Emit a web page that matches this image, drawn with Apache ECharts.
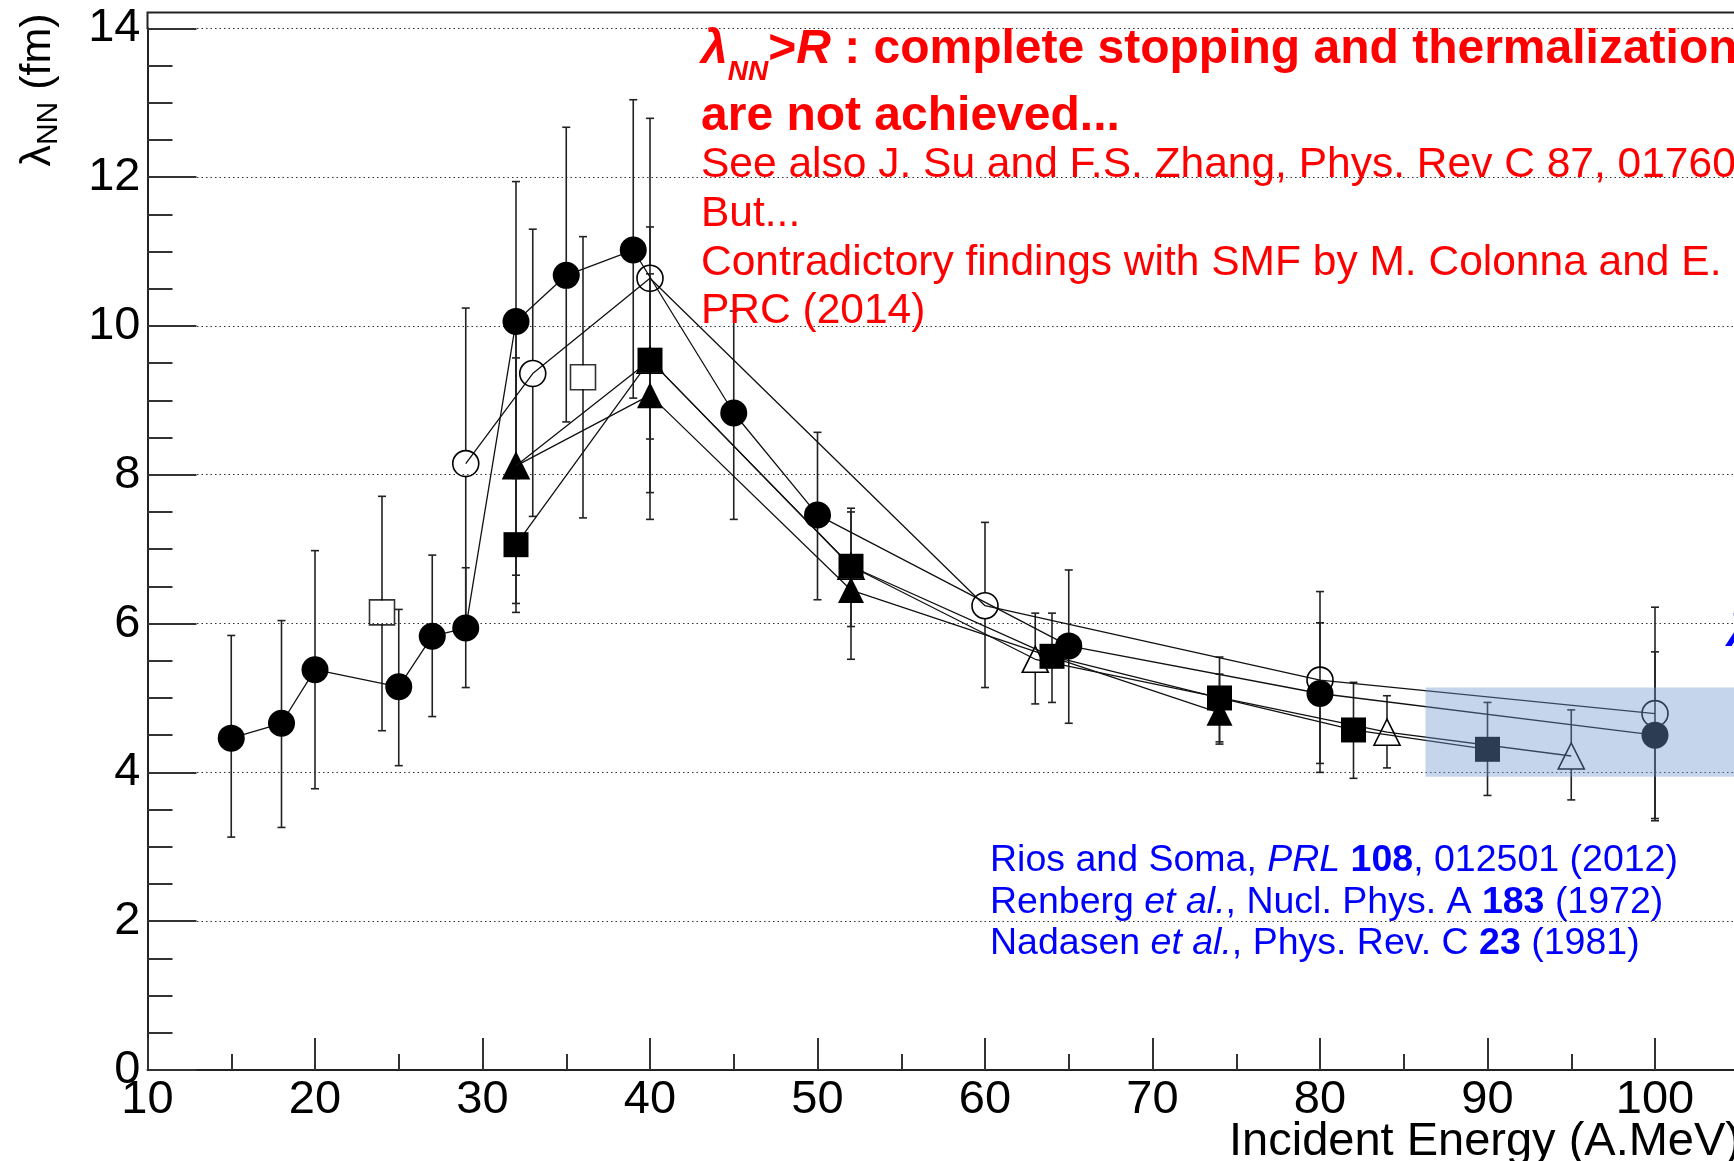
<!DOCTYPE html>
<html>
<head>
<meta charset="utf-8">
<script src="https://cdn.jsdelivr.net/npm/echarts@6/dist/echarts.min.js"></script>
<style>
  html, body { margin: 0; padding: 0; background: #fff; }
  #chart { width: 1734px; height: 1161px; }
</style>
</head>
<body>
<div id="chart"></div>
<script>
// filled circles
var circE = [15, 18, 20, 25, 27, 29, 32, 35, 39, 45, 50, 65, 80, 100];
var circV = [4.46, 4.66, 5.38, 5.15, 5.83, 5.94, 10.06, 10.68, 11.02, 8.83, 7.46, 5.70, 5.06, 4.50];
var circLo = [3.13, 3.26, 3.78, 4.09, 4.75, 5.14, 8.16, 8.71, 9.03, 7.40, 6.32, 4.66, 4.12, 3.38];
var circHi = [5.84, 6.04, 6.98, 6.19, 6.92, 6.75, 11.94, 12.67, 13.04, 10.2, 8.57, 6.72, 6.01, 5.62];

// open circles
var ocircE = [29, 33, 40, 60, 80, 100];
var ocircV = [8.15, 9.36, 10.64, 6.24, 5.24, 4.79];
var ocircLo = [6.06, 7.44, 8.48, 5.14, 4.00, 3.35];
var ocircHi = [10.24, 11.30, 12.79, 7.36, 6.43, 6.22];

// open squares
var osqE = [24, 36];
var osqV = [6.15, 9.31];
var osqLo = [4.56, 7.42];
var osqHi = [7.71, 11.2];

// filled squares
var sqE = [32, 40, 52, 64, 74, 82, 90];
var sqV = [7.06, 9.54, 6.77, 5.56, 5.0, 4.57, 4.31];
var sqLo = [6.15, 7.76, 5.96, 4.94, 4.41, 3.92, 3.69];
var sqHi = [7.95, 11.33, 7.55, 6.14, 5.55, 5.21, 4.94];

// filled triangles
var triE = [32, 40, 52, 74];
var triV = [8.12, 9.07, 6.45, 4.8];
var triLo = [6.65, 7.40, 5.52, 4.38];
var triHi = [9.57, 10.7, 7.5, 5.32];

// open triangles
var otriE = [32, 40, 52, 63, 84, 95];
var otriV = [8.12, 9.54, 6.77, 5.52, 4.54, 4.22];
var otriLo = [6.27, null, null, 4.92, 4.06, 3.63];
var otriHi = [9.93, null, null, 6.14, 5.03, 4.84];

// shaded band (Rios and Soma)
var bandE = [86.3, 110];
var bandV = [3.94, 5.14];

var fontFam = '"Liberation Sans", Arial, Helvetica, sans-serif';

function pts(xs, ys) {
  return xs.map(function (x, i) { return [x, ys[i]]; });
}

function errSeries(xs, ys, lo, hi, gap) {
  var data = [];
  xs.forEach(function (x, i) {
    if (lo[i] != null) data.push([x, lo[i], hi[i], ys[i]]);
  });
  return {
    type: 'custom',
    z: 2,
    silent: true,
    data: data,
    renderItem: function (params, api) {
      var x = api.value(0);
      var pLo = api.coord([x, api.value(1)]);
      var pHi = api.coord([x, api.value(2)]);
      var pV = api.coord([x, api.value(3)]);
      var st = { stroke: '#222', lineWidth: 1.6 };
      var cap = 4;
      var kids = [
        { type: 'line', shape: { x1: pHi[0], y1: pHi[1], x2: pV[0], y2: Math.max(pHi[1], pV[1] - gap) }, style: st },
        { type: 'line', shape: { x1: pV[0], y1: Math.min(pLo[1], pV[1] + gap), x2: pLo[0], y2: pLo[1] }, style: st },
        { type: 'line', shape: { x1: pHi[0] - cap, y1: pHi[1], x2: pHi[0] + cap, y2: pHi[1] }, style: st },
        { type: 'line', shape: { x1: pLo[0] - cap, y1: pLo[1], x2: pLo[0] + cap, y2: pLo[1] }, style: st }
      ];
      return { type: 'group', children: kids };
    }
  };
}

function markSeries(type, xs, ys, symbol, size, filled, z) {
  return {
    type: type,
    data: pts(xs, ys),
    symbol: symbol,
    symbolSize: size,
    showAllSymbol: true,
    z: z,
    lineStyle: { color: '#111', width: 1.3 },
    itemStyle: filled
      ? { color: '#000', borderWidth: 0 }
      : { color: 'rgba(0,0,0,0)', borderColor: '#000', borderWidth: 1.6 },
    emphasis: { disabled: true }
  };
}

var myChart = echarts.init(document.getElementById('chart'));
var rRed = { fill: '#ff0000', fontFamily: fontFam };
function rs(extra) { return Object.assign({}, rRed, extra); }
var rBlue = function (extra) { return Object.assign({ fill: '#0000ff', fontFamily: fontFam, fontSize: 37.5 }, extra); };

myChart.setOption({
  animation: false,
  backgroundColor: '#fff',
  grid: {
    left: 147.5,
    top: 28.3,
    width: 1675,
    height: 1041.7,
    outerBoundsMode: 'none',
    containLabel: false
  },
  xAxis: {
    type: 'value',
    min: 10,
    max: 110,
    interval: 10,
    axisLine: { show: true, onZero: false, lineStyle: { color: '#222', width: 2 } },
    axisTick: { show: true, inside: true, length: 32, lineStyle: { color: '#333', width: 2 } },
    minorTick: { show: true, splitNumber: 2, length: 16, lineStyle: { color: '#333', width: 2 } },
    splitLine: { show: false },
    axisLabel: { fontSize: 47, color: '#000', margin: 7, fontFamily: fontFam }
  },
  yAxis: {
    type: 'value',
    min: 0,
    max: 14,
    interval: 2,
    axisLine: { show: true, onZero: false, lineStyle: { color: '#222', width: 2 } },
    axisTick: { show: true, inside: true, length: 49, lineStyle: { color: '#333', width: 2 } },
    minorTick: { show: true, splitNumber: 4, length: 25, lineStyle: { color: '#333', width: 2 } },
    splitLine: { show: true, lineStyle: { color: '#333', width: 1.2, type: [1.5, 3] } },
    axisLabel: { fontSize: 47, color: '#000', margin: 7, fontFamily: fontFam }
  },
  series: [
    errSeries(circE, circV, circLo, circHi, 0),
    errSeries(ocircE, ocircV, ocircLo, ocircHi, 13),
    errSeries(osqE, osqV, osqLo, osqHi, 12),
    errSeries(sqE, sqV, sqLo, sqHi, 0),
    errSeries(triE, triV, triLo, triHi, 0),
    errSeries(otriE, otriV, otriLo, otriHi, 13),
    markSeries('line', triE, triV, 'triangle', 26, true, 3),
    markSeries('line', otriE, otriV, 'triangle', 26, false, 4),
    markSeries('line', sqE, sqV, 'rect', 25, true, 5),
    markSeries('line', circE, circV, 'circle', 27, true, 5),
    markSeries('line', ocircE, ocircV, 'circle', 26, false, 6),
    markSeries('scatter', osqE, osqV, 'rect', 25, false, 6),
    {
      type: 'custom',
      z: 20,
      silent: true,
      data: [[bandE[0], bandV[0], bandE[1], bandV[1]]],
      renderItem: function (params, api) {
        var p0 = api.coord([api.value(0), api.value(3)]);
        var p1 = api.coord([api.value(2), api.value(1)]);
        return {
          type: 'rect',
          shape: { x: p0[0], y: p0[1], width: p1[0] - p0[0], height: p1[1] - p0[1] },
          style: { fill: 'rgba(110,153,207,0.4)' }
        };
      }
    }
  ],
  graphic: [
    {
      type: 'polyline', z: 10, silent: true,
      shape: { points: [[147.5, 29], [147.5, 12.5], [1740, 12.5]] },
      style: { stroke: '#222', lineWidth: 2, fill: null }
    },
    {
      type: 'text', x: 38, y: 90, rotation: Math.PI / 2, z: 30,
      style: {
        text: '{m|λ}{s|NN}{m| (fm)}',
        align: 'center', verticalAlign: 'middle',
        rich: {
          m: { fontSize: 43, lineHeight: 52, fill: '#000', fontFamily: fontFam },
          s: { fontSize: 30, lineHeight: 30, verticalAlign: 'bottom', fill: '#000', fontFamily: fontFam }
        }
      }
    },
    {
      type: 'text', x: 1741, y: 1142, z: 30,
      style: {
        text: 'Incident Energy (A.MeV)', fill: '#000',
        fontSize: 47, fontFamily: fontFam,
        align: 'right', verticalAlign: 'middle'
      }
    },
    {
      type: 'text', x: 701, y: 14, z: 30,
      style: {
        text: '{bi|λ}{sub|NN}{b|>}{bi|R}{b| : complete stopping and thermalization}',
        align: 'left', verticalAlign: 'top',
        rich: {
          bi: rs({ fontSize: 48, fontWeight: 'bold', fontStyle: 'italic', lineHeight: 72 }),
          b: rs({ fontSize: 48, fontWeight: 'bold', lineHeight: 72 }),
          sub: rs({ fontSize: 28, fontWeight: 'bold', fontStyle: 'italic', lineHeight: 28, verticalAlign: 'bottom' })
        }
      }
    },
    {
      type: 'text', x: 701, y: 117, z: 30,
      style: { text: 'are not achieved...', fill: '#ff0000', fontSize: 48, fontWeight: 'bold', fontFamily: fontFam, align: 'left', verticalAlign: 'middle' }
    },
    {
      type: 'text', x: 701, y: 165, z: 30,
      style: { text: 'See also J. Su and F.S. Zhang, Phys. Rev C 87, 01760', fill: '#ff0000', fontSize: 42.5, fontFamily: fontFam, align: 'left', verticalAlign: 'middle' }
    },
    {
      type: 'text', x: 701, y: 214.5, z: 30,
      style: { text: 'But...', fill: '#ff0000', fontSize: 42.5, fontFamily: fontFam, align: 'left', verticalAlign: 'middle' }
    },
    {
      type: 'text', x: 701, y: 263, z: 30,
      style: { text: 'Contradictory findings with SMF by M. Colonna and E.', fill: '#ff0000', fontSize: 42.5, fontFamily: fontFam, align: 'left', verticalAlign: 'middle' }
    },
    {
      type: 'text', x: 701, y: 311.5, z: 30,
      style: { text: 'PRC (2014)', fill: '#ff0000', fontSize: 42.5, fontFamily: fontFam, align: 'left', verticalAlign: 'middle' }
    },
    {
      type: 'text', x: 990, y: 860.5, z: 30,
      style: {
        text: '{n|Rios and Soma, }{i|PRL}{b| 108}{n|, 012501 (2012)}',
        align: 'left', verticalAlign: 'middle',
        rich: { n: rBlue({}), i: rBlue({ fontStyle: 'italic' }), b: rBlue({ fontWeight: 'bold' }) }
      }
    },
    {
      type: 'text', x: 990, y: 902.5, z: 30,
      style: {
        text: '{n|Renberg }{i|et al.}{n|, Nucl. Phys. A }{b|183}{n| (1972)}',
        align: 'left', verticalAlign: 'middle',
        rich: { n: rBlue({}), i: rBlue({ fontStyle: 'italic' }), b: rBlue({ fontWeight: 'bold' }) }
      }
    },
    {
      type: 'text', x: 990, y: 944, z: 30,
      style: {
        text: '{n|Nadasen }{i|et al.}{n|, Phys. Rev. C }{b|23}{n| (1981)}',
        align: 'left', verticalAlign: 'middle',
        rich: { n: rBlue({}), i: rBlue({ fontStyle: 'italic' }), b: rBlue({ fontWeight: 'bold' }) }
      }
    },
    {
      type: 'text', x: 1727, y: 634, z: 30,
      style: { text: 'λ', fill: '#0000ff', fontSize: 44, fontWeight: 'bold', fontStyle: 'italic', fontFamily: fontFam, align: 'left', verticalAlign: 'middle' }
    }
  ]
});
</script>
</body>
</html>
